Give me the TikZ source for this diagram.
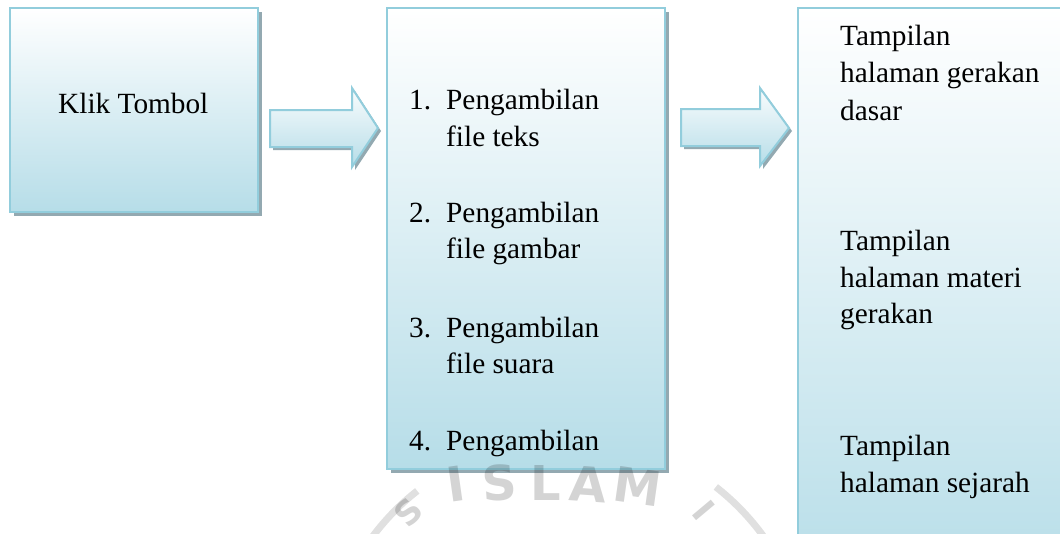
\documentclass[tikz,border=0pt]{standalone}
\usepackage{fontspec}
\setmainfont{Liberation Serif}
\newfontfamily\stampfont{DejaVu Sans}
\usetikzlibrary{shadows}
\definecolor{edgeblue}{HTML}{92CDDC}
\definecolor{fillblue}{HTML}{B6DDE8}
\definecolor{shadowgray}{HTML}{93A9B1}
\tikzset{
  x=1pt, y=-1pt,
  panel/.style={rectangle, draw=edgeblue, line width=2pt, top color=white,
    bottom color=fillblue, inner sep=0pt,
    drop shadow={shadow xshift=4pt, shadow yshift=-4pt, fill=shadowgray, opacity=1}},
  blockarrow/.style={draw=edgeblue, line width=2pt, top color=white!92!fillblue,
    bottom color=fillblue},
  arrowshadow/.style={fill=shadowgray},
  txt/.style={anchor=base west, inner sep=0pt, font=\fontsize{29.3}{37}\selectfont},
  stamp/.style={inner sep=0pt, text=black, text opacity=0.17,
    font=\stampfont\bfseries\fontsize{48}{48}\selectfont},
  ring/.style={draw=black, draw opacity=0.12, line width=7pt}
}
\begin{document}
\begin{tikzpicture}
\useasboundingbox (0,0) rectangle (1060,533);
\clip (0,0) rectangle (1060,533);

% three panels
\node[panel, minimum width=248pt, minimum height=204pt] (start) at (134,110) {};
\node[panel, minimum width=278pt, minimum height=461pt] (fetch) at (526,238.5) {};
\node[panel, minimum width=302pt, minimum height=580pt] (show) at (949,298) {};

% block arrows between the panels
\fill[arrowshadow, shift={(3,3)}] (270,110) -- (352,110) -- (352,88) -- (378,128)
  -- (352,167) -- (352,147) -- (270,147) -- cycle;
\shade[blockarrow] (270,110) -- (352,110) -- (352,88) -- (378,128)
  -- (352,167) -- (352,147) -- (270,147) -- cycle;
\fill[arrowshadow, shift={(3,3)}] (681,109) -- (760,109) -- (760,88) -- (789,128)
  -- (760,166) -- (760,146) -- (681,146) -- cycle;
\shade[blockarrow] (681,109) -- (760,109) -- (760,88) -- (789,128)
  -- (760,166) -- (760,146) -- (681,146) -- cycle;

% first panel
\node[txt] (klik) at (58,113) {Klik Tombol};

% second panel: numbered list
\node[txt] (n1) at (409,109) {1.};
\node[txt] (a1) at (446,109) {Pengambilan};
\node[txt] (b1) at (446,146) {file teks};
\node[txt] (n2) at (409,222) {2.};
\node[txt] (a2) at (446,222) {Pengambilan};
\node[txt] (b2) at (446,258) {file gambar};
\node[txt] (n3) at (409,337) {3.};
\node[txt] (a3) at (446,337) {Pengambilan};
\node[txt] (b3) at (446,373) {file suara};
\node[txt] (n4) at (409,450) {4.};
\node[txt] (a4) at (446,450) {Pengambilan};

% third panel
\node[txt] (p1a) at (840,45) {Tampilan};
\node[txt] (p1b) at (840,82) {halaman gerakan};
\node[txt] (p1c) at (840,120) {dasar};
\node[txt] (p2a) at (840,250) {Tampilan};
\node[txt] (p2b) at (840,287) {halaman materi};
\node[txt] (p2c) at (840,323) {gerakan};
\node[txt] (p3a) at (840,455) {Tampilan};
\node[txt] (p3b) at (840,492) {halaman sejarah};

% faint seal in the background
\draw[ring] (565,680) ++(-145:240) arc[start angle=-145, end angle=-128, radius=240];
\draw[ring] (565,680) ++(-52:245) arc[start angle=-52, end angle=-36, radius=245];
\node[stamp, rotate=8] (sI) at (456,484) {I};
\node[stamp, rotate=4] (sS) at (500,483) {S};
\node[stamp] (sL) at (546,483) {L};
\node[stamp, rotate=-4] (sA) at (588,484) {A};
\node[stamp, rotate=-8] (sM) at (638,486) {M};
\node[stamp, rotate=45, scale=0.7] (sS2) at (408,512) {S};
\node[stamp, rotate=-50, scale=0.7] (sI2) at (704,510) {I};
\end{tikzpicture}
\end{document}
